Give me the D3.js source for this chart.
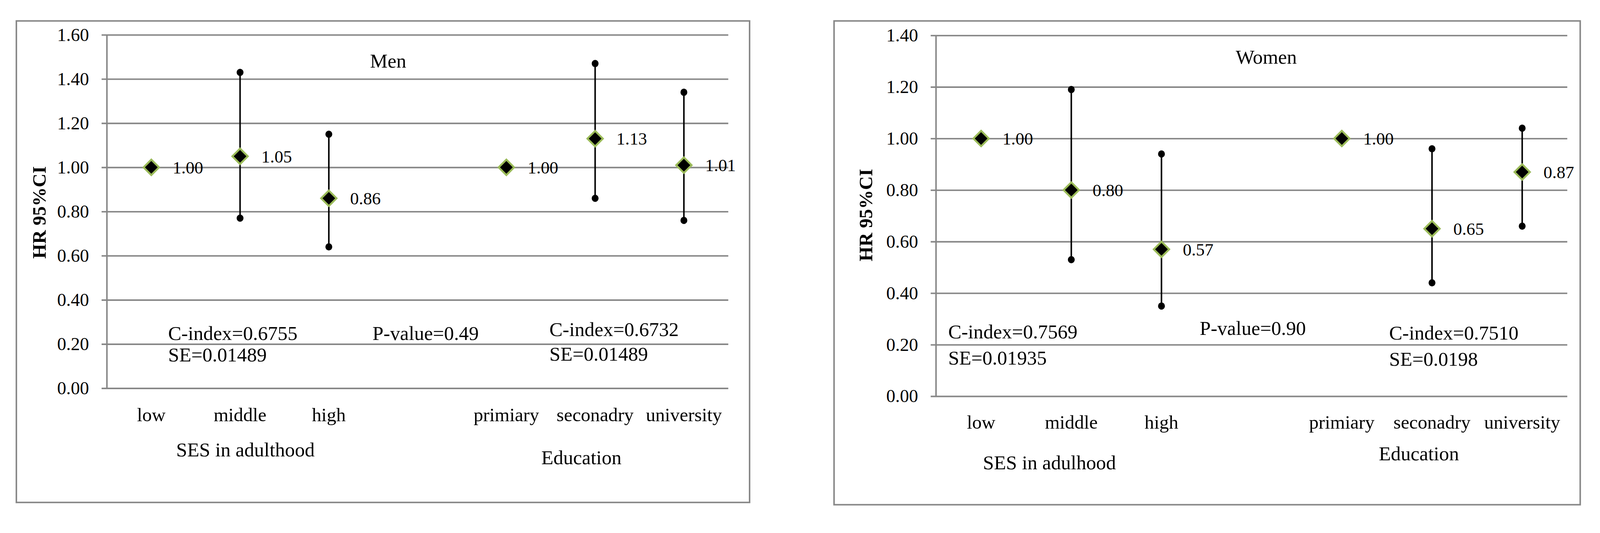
<!DOCTYPE html>
<html lang="en">
<head>
    <meta charset="UTF-8">
    <title>HR 95%CI by SES and Education</title>
    <script src="https://d3js.org/d3.v7.min.js"></script>
    <style>
        html, body { margin: 0; padding: 0; background: #fff; overflow: hidden; }
        svg { display: block; width: 100vw; height: auto; font-family: "Liberation Serif", "Times New Roman", serif; }
    </style>
</head>
<body>
    <svg></svg>
    <script>
        // categories (the empty slot separates the two groups)
        const sesCats = ["low", "middle", "high"];
        const eduCats = ["primiary", "seconadry", "university"];

        // Men
        const menHR    = [1.00, 1.05, 0.86, 1.00, 1.13, 1.01];
        const menLower = [null, 0.77, 0.64, null, 0.86, 0.76];
        const menUpper = [null, 1.43, 1.15, null, 1.47, 1.34];

        // Women
        const womenHR    = [1.00, 0.80, 0.57, 1.00, 0.65, 0.87];
        const womenLower = [null, 0.53, 0.35, null, 0.44, 0.66];
        const womenUpper = [null, 1.19, 0.94, null, 0.96, 1.04];

        const menTicks = [0, 0.2, 0.4, 0.6, 0.8, 1.0, 1.2, 1.4, 1.6];
        const womenTicks = [0, 0.2, 0.4, 0.6, 0.8, 1.0, 1.2, 1.4];

        const menNotes = ["C-index=0.6755", "SE=0.01489", "P-value=0.49", "C-index=0.6732", "SE=0.01489"];
        const womenNotes = ["C-index=0.7569", "SE=0.01935", "P-value=0.90", "C-index=0.7510", "SE=0.0198"];

        const W = 4205, H = 1364;
        const gridColor = "#878787";
        const green = "#9BBB59";

        // viewBox so the whole chart fits whatever width the window really has
        const svg = d3.select("svg")
            .attr("viewBox", `0 0 ${W} ${H}`)
            .attr("preserveAspectRatio", "xMinYMin meet");

        const panels = [
            {
                title: "Men", hr: menHR, lo: menLower, hi: menUpper, ticks: menTicks, notes: menNotes,
                sesTitle: "SES in adulthood",
                box: [43, 55, 1970, 1320], x0: 281, x1: 1914, y0: 1020, y1: 91.5,
                titlePos: [1020, 178], yTitlePos: [103, 558],
                catY: 1107, sesPos: [645, 1199], eduPos: [1528, 1220],
                notePos: [[442, 893], [442, 950], [979, 893], [1444, 883], [1444, 948]]
            },
            {
                title: "Women", hr: womenHR, lo: womenLower, hi: womenUpper, ticks: womenTicks, notes: womenNotes,
                sesTitle: "SES in adulhood",
                box: [2192, 55, 4153, 1326], x0: 2460, x1: 4119, y0: 1041, y1: 93,
                titlePos: [3328, 167], yTitlePos: [2275, 565],
                catY: 1126, sesPos: [2758, 1233], eduPos: [3729, 1209],
                notePos: [[2492, 889], [2492, 958], [3153, 880], [3651, 892], [3651, 961]]
            }
        ];

        panels.forEach(p => {
            const g = svg.append("g");
            const cats = [...sesCats, "", ...eduCats];
            const pts = [...sesCats, ...eduCats];

            const x = d3.scaleBand().domain(cats).range([p.x0, p.x1]);
            const y = d3.scaleLinear()
                .domain([0, d3.max(p.ticks)])
                .range([p.y0, p.y1]);
            const cx = c => x(c) + x.bandwidth() / 2;

            // outer frame
            g.append("rect")
                .attr("x", p.box[0]).attr("y", p.box[1])
                .attr("width", p.box[2] - p.box[0]).attr("height", p.box[3] - p.box[1])
                .attr("fill", "none").attr("stroke", gridColor).attr("stroke-width", 4);

            // gridlines (with the small tick stub left of the axis)
            const tickLen = 14;
            const grid = g.append("g")
                .attr("transform", `translate(${p.x0 - tickLen},0)`)
                .call(d3.axisRight(y).tickValues(p.ticks).tickSize(p.x1 - p.x0 + tickLen).tickFormat(""));
            grid.select(".domain").remove();
            grid.selectAll(".tick line").attr("stroke", gridColor).attr("stroke-width", 4);

            // y axis line + labels
            g.append("line")
                .attr("x1", p.x0).attr("x2", p.x0)
                .attr("y1", y(0) + 2).attr("y2", y(d3.max(p.ticks)))
                .attr("stroke", gridColor).attr("stroke-width", 4);

            const yAx = g.append("g")
                .attr("transform", `translate(${p.x0 - tickLen},0)`)
                .call(d3.axisLeft(y).tickValues(p.ticks).tickSize(0).tickPadding(33).tickFormat(d3.format(".2f")));
            yAx.select(".domain").remove();
            yAx.selectAll("text")
                .attr("font-family", "Liberation Serif")
                .attr("font-size", 48).attr("fill", "#000");

            g.append("text")
                .attr("transform", `translate(${p.yTitlePos[0]},${p.yTitlePos[1]}) rotate(-90)`)
                .attr("text-anchor", "middle").attr("dy", "0.35em")
                .attr("font-size", 50).attr("font-weight", "bold")
                .text("HR 95%CI");

            // category labels
            g.selectAll(".cat")
                .data(pts).enter().append("text")
                .attr("x", d => cx(d)).attr("y", p.catY)
                .attr("text-anchor", "middle").attr("font-size", 50)
                .text(d => d);

            g.append("text")
                .attr("x", p.sesPos[0]).attr("y", p.sesPos[1])
                .attr("text-anchor", "middle").attr("font-size", 52)
                .text(p.sesTitle);
            g.append("text")
                .attr("x", p.eduPos[0]).attr("y", p.eduPos[1])
                .attr("text-anchor", "middle").attr("font-size", 52)
                .text("Education");

            // panel title
            g.append("text")
                .attr("x", p.titlePos[0]).attr("y", p.titlePos[1])
                .attr("text-anchor", "middle").attr("font-size", 52)
                .text(p.title);

            // notes
            p.notes.forEach((t, i) => {
                g.append("text")
                    .attr("x", p.notePos[i][0]).attr("y", p.notePos[i][1])
                    .attr("font-size", 52)
                    .text(t);
            });

            const rows = pts.map((c, i) => ({ cat: c, hr: p.hr[i], lo: p.lo[i], hi: p.hi[i] }));

            // error bars
            const ci = rows.filter(d => d.lo != null);
            g.selectAll(".bar")
                .data(ci).enter().append("line")
                .attr("x1", d => cx(d.cat)).attr("x2", d => cx(d.cat))
                .attr("y1", d => y(d.lo)).attr("y2", d => y(d.hi))
                .attr("stroke", "#000").attr("stroke-width", 4);
            g.selectAll(".capLo")
                .data(ci).enter().append("ellipse")
                .attr("cx", d => cx(d.cat)).attr("cy", d => y(d.lo))
                .attr("rx", 9).attr("ry", 9.5).attr("fill", "#000");
            g.selectAll(".capHi")
                .data(ci).enter().append("ellipse")
                .attr("cx", d => cx(d.cat)).attr("cy", d => y(d.hi))
                .attr("rx", 9).attr("ry", 9.5).attr("fill", "#000");

            // diamonds
            const diamond = d3.symbol().type(d3.symbolSquare).size(820);
            g.selectAll(".pt")
                .data(rows).enter().append("path")
                .attr("d", diamond)
                .attr("transform", d => `translate(${cx(d.cat)},${y(d.hr)}) rotate(45)`)
                .attr("fill", "#000").attr("stroke", green).attr("stroke-width", 5);

            // value labels
            g.selectAll(".val")
                .data(rows).enter().append("text")
                .attr("x", d => cx(d.cat) + 56).attr("y", d => y(d.hr))
                .attr("dy", "0.35em").attr("font-size", 46)
                .text(d => d.hr.toFixed(2));
        });
    </script>
</body>
</html>
